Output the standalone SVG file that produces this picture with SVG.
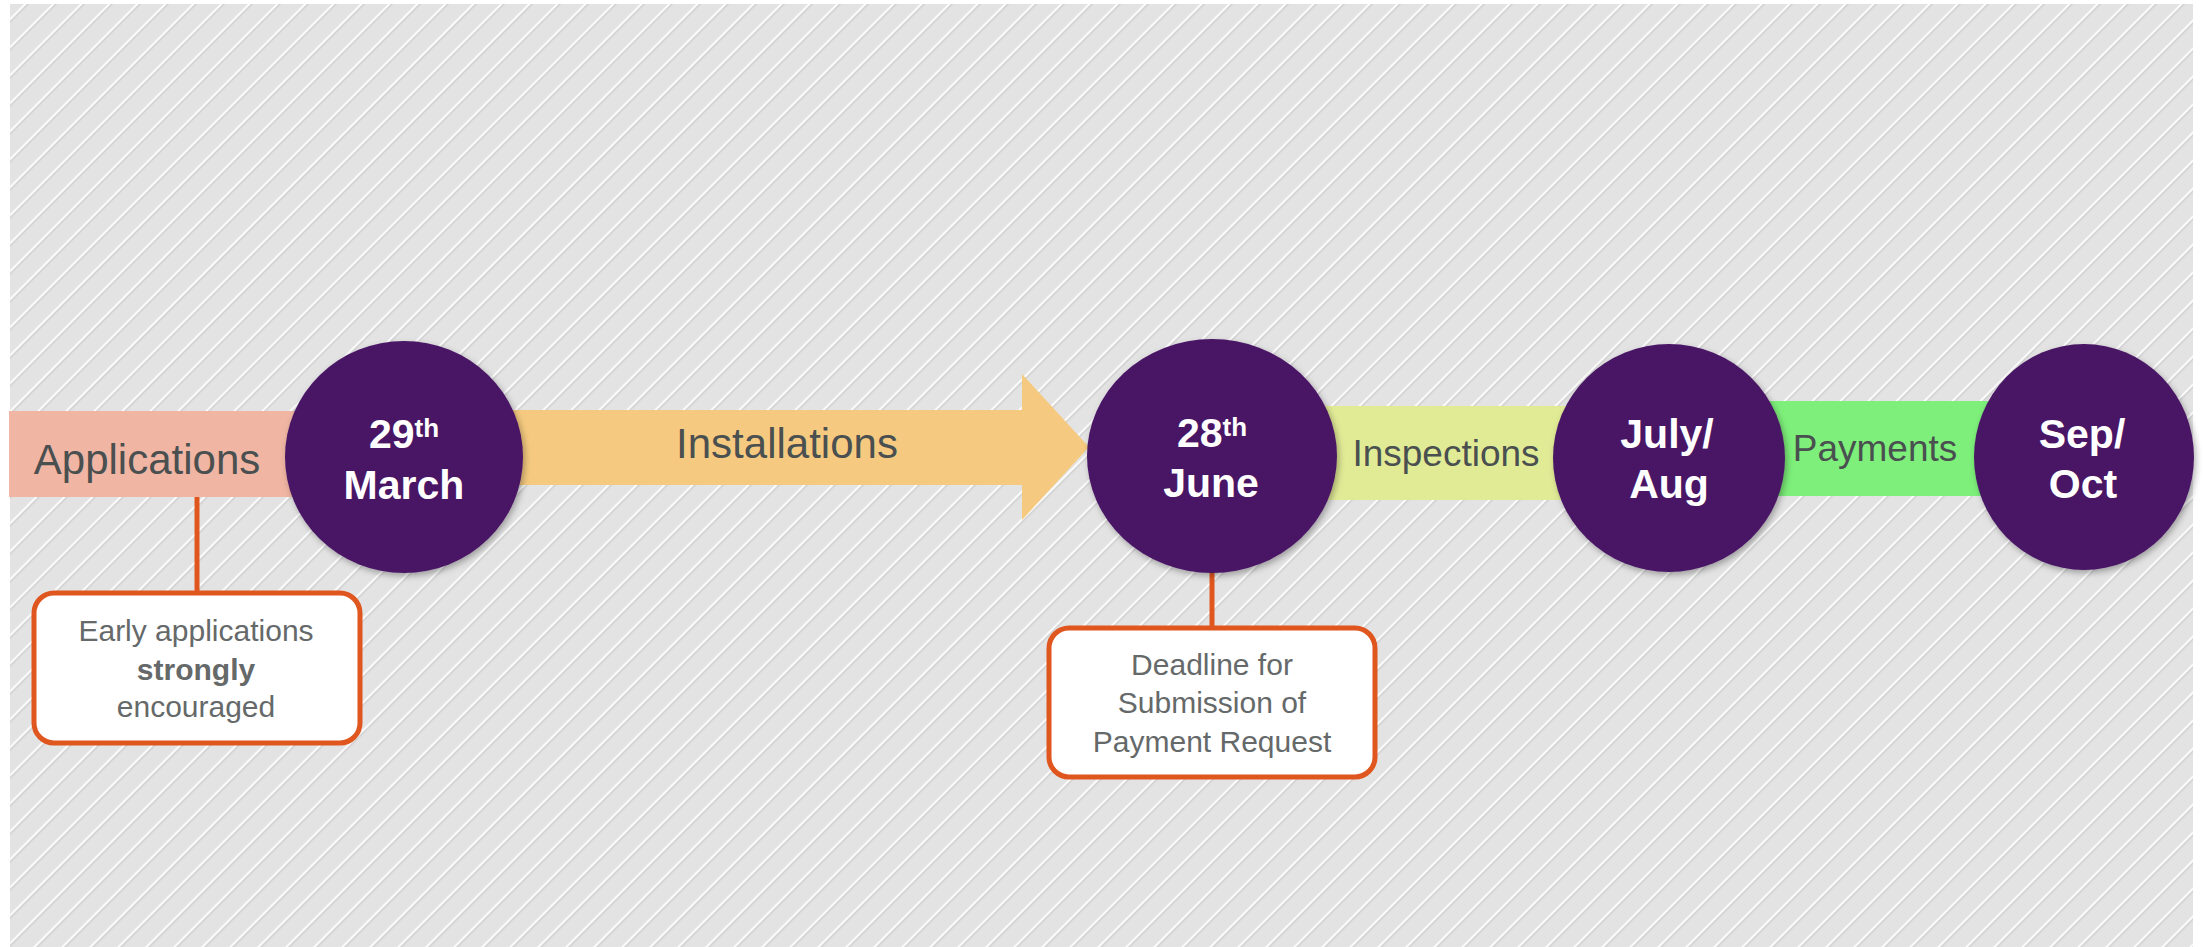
<svg xmlns="http://www.w3.org/2000/svg" width="2203" height="947" viewBox="0 0 2203 947">
<style>
.bar-label{font-family:"Liberation Sans",Arial,sans-serif;fill:#4a4f50;text-anchor:middle}
.date{font-family:"Liberation Sans",Arial,sans-serif;font-weight:bold;fill:#ffffff;text-anchor:middle;font-size:41px}
.sup{font-size:26px}
.note{font-family:"Liberation Sans",Arial,sans-serif;fill:#656969;text-anchor:middle;font-size:30px}
.node-circle{fill:#4a1866;filter:url(#shadow)}
.callout-box{fill:#ffffff;stroke:#e0561f;stroke-width:5}
.callout-line{stroke:#e0561f;stroke-width:5;fill:none}
</style>
<defs>
<pattern id="hatch" patternUnits="userSpaceOnUse" width="20" height="19.8" patternTransform="rotate(-45)">
<rect width="20" height="19.8" fill="#e3e3e3"/>
<rect y="0" width="20" height="2.2" fill="#fbfbfb"/>
<rect y="2.2" width="20" height="1.2" fill="#cbcbcb"/>
</pattern>
<filter id="shadow" x="-20%" y="-20%" width="140%" height="140%">
<feDropShadow dx="2" dy="3" stdDeviation="3" flood-color="#000" flood-opacity="0.3"/>
</filter>
</defs>
<rect width="2203" height="947" fill="#ffffff"/>
<rect x="10" y="4" width="2183" height="943" fill="url(#hatch)"/>

<g id="connectors">
<line class="callout-line" x1="197" y1="497" x2="197" y2="593"/>
<line class="callout-line" x1="1212" y1="570" x2="1212" y2="628"/>
</g>

<g id="applications-bar">
<rect x="9" y="411" width="330" height="86" fill="#f0b5a3"/>
<text class="bar-label" x="147" y="474" font-size="42">Applications</text>
</g>
<g id="installations-arrow">
<polygon points="480,410 1022,410 1022,374 1089,447 1022,520 1022,485 480,485" fill="#f5ca80"/>
<text class="bar-label" x="787" y="458" font-size="42">Installations</text>
</g>
<g id="inspections-bar">
<rect x="1300" y="406" width="290" height="94" fill="#e1eb96"/>
<text class="bar-label" x="1446" y="466" font-size="37">Inspections</text>
</g>
<g id="payments-bar">
<rect x="1740" y="401" width="270" height="95" fill="#7def7a"/>
<text class="bar-label" x="1875" y="461" font-size="37">Payments</text>
</g>

<g id="node-29-march">
<ellipse class="node-circle" cx="404" cy="457" rx="119" ry="116"/>
<text class="date" x="404" y="448">29<tspan class="sup" dy="-11">th</tspan></text>
<text class="date" x="404" y="499">March</text>
</g>
<g id="node-28-june">
<ellipse class="node-circle" cx="1212" cy="456" rx="125" ry="117"/>
<text class="date" x="1212" y="447">28<tspan class="sup" dy="-11">th</tspan></text>
<text class="date" x="1211" y="497">June</text>
</g>
<g id="node-july-aug">
<ellipse class="node-circle" cx="1669" cy="458" rx="116" ry="114"/>
<text class="date" x="1667" y="448">July/</text>
<text class="date" x="1669" y="498">Aug</text>
</g>
<g id="node-sep-oct">
<ellipse class="node-circle" cx="2084" cy="457" rx="110" ry="113"/>
<text class="date" x="2082" y="448">Sep/</text>
<text class="date" x="2083" y="498">Oct</text>
</g>

<g id="callout-early">
<rect class="callout-box" x="34" y="593" width="326" height="150" rx="20"/>
<text class="note" x="196" y="641">Early applications</text>
<text class="note" x="196" y="680" font-weight="bold">strongly</text>
<text class="note" x="196" y="717">encouraged</text>
</g>
<g id="callout-deadline">
<rect class="callout-box" x="1049" y="628" width="326" height="149" rx="20"/>
<text class="note" x="1212" y="675" font-size="31">Deadline for</text>
<text class="note" x="1212" y="713" font-size="31">Submission of</text>
<text class="note" x="1212" y="752" font-size="31">Payment Request</text>
</g>
</svg>
